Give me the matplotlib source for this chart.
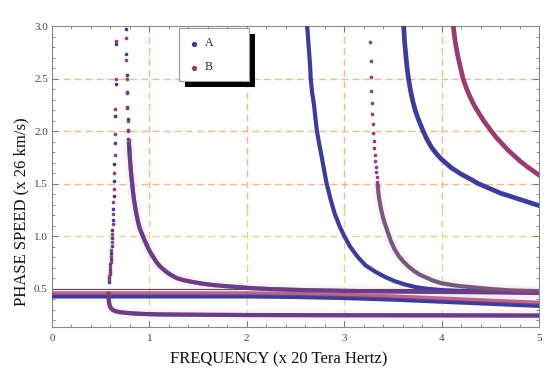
import matplotlib
matplotlib.use('Agg')
import matplotlib.pyplot as plt
from matplotlib.patches import Rectangle
from matplotlib.ticker import MultipleLocator
from matplotlib.lines import Line2D

plt.rcParams['font.family'] = ['Liberation Serif', 'DejaVu Serif']

COL_A = '#3d3d99'
COL_B = '#993d70'
HALO = '#f7dcf2'

# ---------------- data ----------------
# nearly flat upper modes
flatA_x = [0.0, 1.0, 2.0, 2.5, 3.0, 3.5, 4.0, 4.5, 5.0]
flatA_y = [0.425, 0.425, 0.425, 0.42, 0.41, 0.395, 0.375, 0.355, 0.335]
flatB_x = [0.0, 1.0, 2.0, 2.5, 3.0, 3.5, 4.0, 4.5, 5.0]
flatB_y = [0.455, 0.455, 0.455, 0.45, 0.44, 0.425, 0.405, 0.385, 0.365]

# lower branch (A and B coincide)
low_x = [0.58, 0.581, 0.583, 0.587, 0.592, 0.598, 0.606, 0.615, 0.63, 0.65, 0.675, 0.70,
         0.735, 0.77, 0.82, 0.87, 0.97, 1.1, 1.3, 1.6, 2.0, 2.5, 3.0, 3.5, 4.0, 4.5, 5.0]
low_y = [0.45, 0.42, 0.39, 0.36, 0.34, 0.325, 0.313, 0.303, 0.293, 0.285, 0.279, 0.275,
         0.271, 0.268, 0.264, 0.261, 0.257, 0.254, 0.252, 0.25, 0.248, 0.247, 0.246, 0.2455,
         0.245, 0.244, 0.243]

# first steep branch, sparse points
steepA_x = [0.656, 0.654, 0.650, 0.645, 0.640, 0.636, 0.632, 0.628, 0.624, 0.620,
            0.616, 0.612, 0.608, 0.604, 0.600, 0.596, 0.592, 0.588, 0.584]
steepA_y = [2.83, 2.45, 2.14, 1.89, 1.69, 1.52, 1.38, 1.26, 1.15, 1.06,
            0.98, 0.91, 0.84, 0.78, 0.73, 0.68, 0.64, 0.60, 0.565]
steepB_x = [0.657, 0.655, 0.651, 0.646, 0.642, 0.638, 0.634, 0.630, 0.626, 0.622,
            0.618, 0.614, 0.610, 0.606, 0.602, 0.598, 0.594, 0.590, 0.586]
steepB_y = [2.86, 2.50, 2.21, 1.97, 1.77, 1.60, 1.45, 1.32, 1.21, 1.11,
            1.02, 0.94, 0.87, 0.81, 0.755, 0.705, 0.66, 0.62, 0.58]

# second branch: sparse top points
br2A_dots_x = [0.759, 0.762, 0.765, 0.769, 0.772, 0.776, 0.780, 0.784, 0.788]
br2A_dots_y = [2.97, 2.73, 2.53, 2.37, 2.23, 2.11, 2.01, 1.92, 1.84]
br2B_dots_x = [0.762, 0.764, 0.767, 0.770, 0.774, 0.778, 0.782, 0.786]
br2B_dots_y = [2.89, 2.68, 2.50, 2.36, 2.22, 2.10, 2.00, 1.91]
# second branch: dense part (A and B coincide)
br2_x = [0.79, 0.795, 0.80, 0.805, 0.81, 0.817, 0.825, 0.832, 0.84, 0.85, 0.86, 0.87, 0.88,
         0.89, 0.90, 0.915, 0.93, 0.95, 0.97, 1.0, 1.04, 1.07, 1.11, 1.16, 1.21, 1.28, 1.35,
         1.43, 1.52, 1.64, 1.76, 1.9, 2.03, 2.24, 2.6, 3.0, 3.5, 4.0, 4.5, 5.0]
br2_y = [1.88, 1.81, 1.74, 1.68, 1.62, 1.55, 1.48, 1.42, 1.36, 1.30, 1.245, 1.195, 1.15,
         1.11, 1.075, 1.04, 1.005, 0.96, 0.92, 0.86, 0.80, 0.755, 0.71, 0.67, 0.635, 0.60,
         0.58, 0.565, 0.55, 0.535, 0.525, 0.515, 0.505, 0.495, 0.485, 0.478, 0.472, 0.468,
         0.465, 0.462]

# third branch A
br3A_x = [2.62, 2.63, 2.64, 2.65, 2.656, 2.67, 2.69, 2.705, 2.72, 2.745, 2.77, 2.795, 2.82,
          2.86, 2.90, 2.95, 3.0, 3.06, 3.14, 3.22, 3.32, 3.42, 3.52, 3.62, 3.73, 3.86, 4.0,
          4.25, 4.5, 4.75, 5.0]
br3A_y = [3.0, 2.87, 2.75, 2.62, 2.5, 2.37, 2.25, 2.12, 2.0, 1.87, 1.75, 1.62, 1.5,
          1.35, 1.22, 1.10, 1.0, 0.90, 0.80, 0.72, 0.66, 0.61, 0.57, 0.54, 0.515, 0.497, 0.485,
          0.475, 0.47, 0.465, 0.46]

# third branch B: sparse top points then dense part
br3B_dots_x = [3.270, 3.272, 3.275, 3.280, 3.285, 3.290, 3.295, 3.300, 3.305, 3.310,
               3.315, 3.320, 3.325, 3.330, 3.335, 3.340, 3.345]
br3B_dots_y = [2.844, 2.663, 2.510, 2.377, 2.266, 2.164, 2.069, 1.980, 1.909, 1.836,
               1.772, 1.715, 1.660, 1.613, 1.565, 1.517, 1.476]
br3B_x = [3.345, 3.35, 3.36, 3.37, 3.38, 3.395, 3.41, 3.43, 3.45, 3.48, 3.52, 3.56, 3.61,
          3.66, 3.72, 3.78, 3.83, 3.9, 4.0, 4.1, 4.2, 4.34, 4.5, 4.68, 4.85, 5.0]
br3B_y = [1.476, 1.42, 1.35, 1.30, 1.25, 1.19, 1.14, 1.085, 1.03, 0.95, 0.87, 0.81, 0.755,
          0.71, 0.665, 0.63, 0.61, 0.58, 0.55, 0.535, 0.522, 0.51, 0.496, 0.484, 0.478, 0.475]

# fourth branch A and B
br4A_x = [3.61, 3.615, 3.62, 3.63, 3.64, 3.65, 3.66, 3.68, 3.70, 3.725, 3.75, 3.78, 3.81,
          3.85, 3.90, 3.95, 4.0, 4.05, 4.1, 4.15, 4.2, 4.3, 4.375, 4.5, 4.6, 4.7, 4.8, 4.9, 5.0]
br4A_y = [3.0, 2.93, 2.85, 2.75, 2.65, 2.57, 2.5, 2.39, 2.3, 2.21, 2.14, 2.07, 2.0,
          1.92, 1.84, 1.78, 1.73, 1.69, 1.65, 1.62, 1.59, 1.54, 1.5, 1.45, 1.41, 1.38, 1.35,
          1.32, 1.29]
br4B_x = [4.12, 4.13, 4.14, 4.155, 4.17, 4.195, 4.22, 4.25, 4.28, 4.315, 4.35, 4.39, 4.43,
          4.47, 4.51, 4.56, 4.62, 4.68, 4.75, 4.81, 4.88, 4.94, 5.0]
br4B_y = [3.0, 2.92, 2.85, 2.77, 2.7, 2.6, 2.5, 2.42, 2.35, 2.28, 2.22, 2.16, 2.1,
          2.05, 2.0, 1.94, 1.88, 1.82, 1.76, 1.71, 1.66, 1.62, 1.58]

xticks = [0, 1, 2, 3, 4, 5]
yticks = [0.5, 1.0, 1.5, 2.0, 2.5, 3.0]
labels = ['A', 'B']

# ---------------- figure ----------------
W, H = 550, 378
fig = plt.figure(figsize=(W / 100, H / 100), dpi=100)
L, R, T, B = 52, 539, 26, 327
ax = fig.add_axes([L / W, 1 - B / H, (R - L) / W, (B - T) / H])
ax.set_xlim(0, 5)
ax.set_ylim(0.134, 3.0)

# grid
dash = (0, (5, 3))
for yv in [1.5, 2.0, 2.5]:
    ax.axhline(yv, color='#f5b68a', lw=1.0, ls=dash, zorder=0)
ax.axhline(1.0, color='#e9cf98', lw=1.0, ls=dash, zorder=0)
split = (1.25 - 0.134) / (3.0 - 0.134)
for xv in [1, 2, 3, 4]:
    ax.axvline(xv, ymin=split, ymax=1, color='#f5b68a', lw=1.0, ls=dash, zorder=0)
    ax.axvline(xv, ymin=0, ymax=split, color='#e9cf98', lw=1.0, ls=dash, zorder=0)

# halos
halo_kw = dict(color=HALO, lw=8, alpha=0.35, solid_capstyle='round', zorder=1)
ax.plot(flatB_x, flatB_y, **halo_kw)
ax.plot(low_x, low_y, **halo_kw)
ax.plot(br2_x, br2_y, **halo_kw)
ax.plot(br3B_x, br3B_y, **halo_kw)

ax.axhline(0.5, color='#5a4a52', lw=0.8, zorder=2)

lw = 3.0
# flat modes
ax.plot(flatA_x, flatA_y, color=COL_A, lw=lw, zorder=3)
ax.plot(flatB_x, flatB_y, color=COL_B, lw=lw, alpha=0.75, zorder=4)
# lower branch
ax.plot(low_x, low_y, color=COL_A, lw=lw, zorder=3)
ax.plot(low_x, low_y, color=COL_B, lw=lw, alpha=0.5, zorder=4)
# steep branch dots
ax.scatter(steepA_x, steepA_y, s=7, color=COL_A, lw=0, zorder=5)
ax.scatter(steepB_x, steepB_y, s=7, color=COL_B, lw=0, zorder=5)
# second branch
ax.scatter(br2A_dots_x, br2A_dots_y, s=7, color=COL_A, lw=0, zorder=5)
ax.scatter(br2B_dots_x, br2B_dots_y, s=7, color=COL_B, lw=0, zorder=5)
ax.plot(br2_x, br2_y, color=COL_A, lw=lw, zorder=3)
ax.plot(br2_x, br2_y, color=COL_B, lw=lw, alpha=0.5, zorder=4)
# third branch
ax.plot(br3A_x, br3A_y, color=COL_A, lw=lw, zorder=3)
ax.scatter(br3B_dots_x, br3B_dots_y, s=7, color=COL_B, lw=0, zorder=5)
ax.plot(br3B_x, br3B_y, color='#765a7e', lw=lw, zorder=3)
# fourth branch
ax.plot(br4A_x, br4A_y, color=COL_A, lw=lw + 0.4, zorder=3)
ax.plot(br4B_x, br4B_y, color=COL_B, lw=lw + 0.4, zorder=3)

# axes styling
for sp in ax.spines.values():
    sp.set_color('#8a8a8a')
    sp.set_linewidth(0.8)
ax.set_xticks(xticks)
ax.set_xticklabels([str(v) for v in xticks])
ax.set_yticks(yticks)
ax.set_yticklabels(['%.1f' % v for v in yticks])
ax.xaxis.set_minor_locator(MultipleLocator(0.2))
ax.yaxis.set_minor_locator(MultipleLocator(0.1))
ax.tick_params(which='both', direction='in', top=True, right=True, color='#777777')
ax.tick_params(which='major', length=4, width=0.7, labelsize=8, labelcolor='#444444')
ax.tick_params(which='minor', length=2.2, width=0.6)
ax.tick_params(axis='x', which='major', pad=5)
ax.tick_params(axis='y', which='major', pad=3)

fig.text(279 / W, 1 - 359 / H, 'FREQUENCY (x 20 Tera Hertz)', ha='center', va='center',
         fontsize=12, color='#111111')
fig.text(21.5 / W, 1 - 212 / H, 'PHASE SPEED (x 26 km/s)', ha='center', va='center',
         rotation=90, fontsize=12, color='#111111')

# legend box with shadow
def frect(x0, y0, x1, y1, **kw):
    return Rectangle((x0 / W, 1 - y1 / H), (x1 - x0) / W, (y1 - y0) / H,
                     transform=fig.transFigure, **kw)

fig.patches.append(frect(185, 34, 255, 87, facecolor='black', edgecolor='none', zorder=10))
fig.patches.append(frect(179, 28, 249, 81, facecolor='white', edgecolor='#999999', lw=0.8, zorder=11))
for i, (lab, col) in enumerate(zip(labels, [COL_A, COL_B])):
    yy = [43.5, 67.5][i]
    fig.add_artist(Line2D([193.5 / W], [1 - yy / H], marker='o', markersize=2.8, color=col,
                          lw=0, transform=fig.transFigure, zorder=12))
    fig.text(209 / W, 1 - yy / H, lab, ha='center', va='center', fontsize=8.5,
             color='#222222', zorder=12)

fig.savefig('out.png', dpi=100)
